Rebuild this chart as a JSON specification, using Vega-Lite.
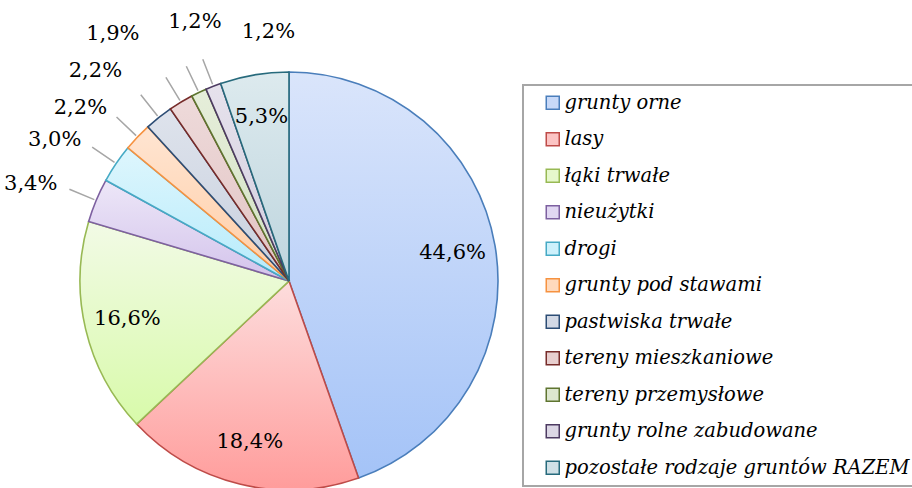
{
  "$schema": "https://vega.github.io/schema/vega-lite/v6.json",
  "width": 578,
  "height": 414,
  "autosize": {"type": "none"},
  "padding": {"left": 0, "top": 74, "right": 334, "bottom": 0},
  "background": "white",
  "config": {
    "view": {"stroke": null},
    "locale": {"number": {"decimal": ",", "thousands": " ", "grouping": [3], "currency": ["", " zł"]}},
    "legend": {
      "strokeColor": "#a6a6a6",
      "strokeWidth": 2,
      "padding": 8,
      "symbolOffset": 12,
      "labelFont": "DejaVu Serif",
      "labelFontStyle": "italic",
      "labelFontSize": 19.5,
      "labelColor": "#000000",
      "labelLimit": 0,
      "labelOffset": 2,
      "symbolType": "square",
      "symbolSize": 169,
      "symbolStrokeWidth": 1.5,
      "rowPadding": 15.5
    }
  },
  "data": {
    "values": [
      {"idx": 1, "name": "grunty orne", "share": 0.446},
      {"idx": 2, "name": "lasy", "share": 0.184},
      {"idx": 3, "name": "łąki trwałe", "share": 0.166},
      {"idx": 4, "name": "nieużytki", "share": 0.034},
      {"idx": 5, "name": "drogi", "share": 0.030},
      {"idx": 6, "name": "grunty pod stawami", "share": 0.022},
      {"idx": 7, "name": "pastwiska trwałe", "share": 0.022},
      {"idx": 8, "name": "tereny mieszkaniowe", "share": 0.019},
      {"idx": 9, "name": "tereny przemysłowe", "share": 0.012},
      {"idx": 10, "name": "grunty rolne zabudowane", "share": 0.012},
      {"idx": 11, "name": "pozostałe rodzaje gruntów RAZEM", "share": 0.053}
    ]
  },
  "encoding": {
    "theta": {"field": "share", "type": "quantitative", "stack": true},
    "order": {"field": "idx", "type": "quantitative"}
  },
  "layer": [
    {
      "mark": {"type": "arc", "radius": 209, "strokeWidth": 1.6},
      "encoding": {
        "fill": {
          "field": "name", "type": "nominal", "sort": null,
          "scale": {
            "domain": ["grunty orne", "lasy", "łąki trwałe", "nieużytki", "drogi", "grunty pod stawami", "pastwiska trwałe", "tereny mieszkaniowe", "tereny przemysłowe", "grunty rolne zabudowane", "pozostałe rodzaje gruntów RAZEM"],
            "range": ["#c8d9f8", "#fcc4c4", "#e6f8cc", "#e1d7f2", "#cdf1fc", "#ffdabd", "#d3d9e5", "#e8cfcf", "#dde7cf", "#dcd7e5", "#cfe0e6"]
          },
          "legend": {"orient": "none", "legendX": 523, "legendY": 11, "title": null},
          "condition": [
            {"test": "datum.idx == 1", "value": {"gradient": "linear", "x1": 0, "y1": 0, "x2": 0, "y2": 1, "stops": [{"offset": 0, "color": "#dae5fb"}, {"offset": 1, "color": "#a4c3f7"}]}},
            {"test": "datum.idx == 2", "value": {"gradient": "linear", "x1": 0, "y1": 0, "x2": 0, "y2": 1, "stops": [{"offset": 0, "color": "#fddddd"}, {"offset": 1, "color": "#ff9c9b"}]}},
            {"test": "datum.idx == 3", "value": {"gradient": "linear", "x1": 0, "y1": 0, "x2": 0, "y2": 1, "stops": [{"offset": 0, "color": "#f2fae6"}, {"offset": 1, "color": "#d8faaa"}]}},
            {"test": "datum.idx == 4", "value": {"gradient": "linear", "x1": 0, "y1": 0, "x2": 0, "y2": 1, "stops": [{"offset": 0, "color": "#ede7f8"}, {"offset": 1, "color": "#d3c3eb"}]}},
            {"test": "datum.idx == 5", "value": {"gradient": "linear", "x1": 0, "y1": 0, "x2": 0, "y2": 1, "stops": [{"offset": 0, "color": "#def6fd"}, {"offset": 1, "color": "#b6ebfb"}]}},
            {"test": "datum.idx == 6", "value": {"gradient": "linear", "x1": 0, "y1": 0, "x2": 0, "y2": 1, "stops": [{"offset": 0, "color": "#ffe5d2"}, {"offset": 1, "color": "#ffcda5"}]}},
            {"test": "datum.idx == 7", "value": {"gradient": "linear", "x1": 0, "y1": 0, "x2": 0, "y2": 1, "stops": [{"offset": 0, "color": "#dee3ec"}, {"offset": 1, "color": "#c8d0de"}]}},
            {"test": "datum.idx == 8", "value": {"gradient": "linear", "x1": 0, "y1": 0, "x2": 0, "y2": 1, "stops": [{"offset": 0, "color": "#eedada"}, {"offset": 1, "color": "#e1c3c3"}]}},
            {"test": "datum.idx == 9", "value": {"gradient": "linear", "x1": 0, "y1": 0, "x2": 0, "y2": 1, "stops": [{"offset": 0, "color": "#e6eeda"}, {"offset": 1, "color": "#d2e1c3"}]}},
            {"test": "datum.idx == 10", "value": {"gradient": "linear", "x1": 0, "y1": 0, "x2": 0, "y2": 1, "stops": [{"offset": 0, "color": "#e6e2ec"}, {"offset": 1, "color": "#d2cdde"}]}},
            {"test": "datum.idx == 11", "value": {"gradient": "linear", "x1": 0, "y1": 0, "x2": 0, "y2": 1, "stops": [{"offset": 0, "color": "#ddeaee"}, {"offset": 1, "color": "#bed5de"}]}}
          ]
        },
        "stroke": {
          "field": "name", "type": "nominal", "sort": null,
          "scale": {
            "domain": ["grunty orne", "lasy", "łąki trwałe", "nieużytki", "drogi", "grunty pod stawami", "pastwiska trwałe", "tereny mieszkaniowe", "tereny przemysłowe", "grunty rolne zabudowane", "pozostałe rodzaje gruntów RAZEM"],
            "range": ["#4a7ebb", "#be4b48", "#98b954", "#7d60a0", "#46aac5", "#f69240", "#2c4d75", "#772c2a", "#5f7530", "#4d3b62", "#276a7c"]
          },
          "legend": {"orient": "none", "legendX": 523, "legendY": 11, "title": null}
        }
      }
    },
    {
      "mark": {"type": "arc", "radius": 238, "radius2": 211, "padAngle": 0.2, "stroke": "#a6a6a6", "strokeWidth": 1.5, "fillOpacity": 0},
      "encoding": {
        "strokeOpacity": {"condition": {"test": "datum.share < 0.05", "value": 1}, "value": 0}
      }
    },
    {
      "mark": {"type": "text", "radius": 166, "font": "DejaVu Serif", "fontSize": 21, "color": "#000000", "align": "center", "baseline": "middle"},
      "encoding": {
        "text": {"field": "share", "type": "quantitative", "format": ".1%"},
        "opacity": {"condition": {"test": "datum.share >= 0.05", "value": 1}, "value": 0}
      }
    },
    {
      "mark": {"type": "text", "radius": 251, "font": "DejaVu Serif", "fontSize": 21, "color": "#000000", "align": "right", "baseline": "middle"},
      "encoding": {
        "text": {"field": "share", "type": "quantitative", "format": ".1%"},
        "opacity": {"condition": {"test": "datum.idx >= 4 && datum.idx <= 6", "value": 1}, "value": 0}
      }
    },
    {
      "mark": {"type": "text", "radius": 268, "font": "DejaVu Serif", "fontSize": 21, "color": "#000000", "align": "right", "baseline": "middle"},
      "encoding": {
        "text": {"field": "share", "type": "quantitative", "format": ".1%"},
        "opacity": {"condition": {"test": "datum.idx == 7", "value": 1}, "value": 0}
      }
    },
    {
      "mark": {"type": "text", "radius": 289, "font": "DejaVu Serif", "fontSize": 21, "color": "#000000", "align": "right", "baseline": "middle"},
      "encoding": {
        "text": {"field": "share", "type": "quantitative", "format": ".1%"},
        "opacity": {"condition": {"test": "datum.idx == 8", "value": 1}, "value": 0}
      }
    },
    {
      "mark": {"type": "text", "radius": 276, "dx": 25, "dy": -10, "font": "DejaVu Serif", "fontSize": 21, "color": "#000000", "align": "center", "baseline": "middle"},
      "encoding": {
        "text": {"field": "share", "type": "quantitative", "format": ".1%"},
        "opacity": {"condition": {"test": "datum.idx == 9", "value": 1}, "value": 0}
      }
    },
    {
      "mark": {"type": "text", "radius": 250, "dx": 70, "dy": -16, "font": "DejaVu Serif", "fontSize": 21, "color": "#000000", "align": "center", "baseline": "middle"},
      "encoding": {
        "text": {"field": "share", "type": "quantitative", "format": ".1%"},
        "opacity": {"condition": {"test": "datum.idx == 10", "value": 1}, "value": 0}
      }
    }
  ]
}
